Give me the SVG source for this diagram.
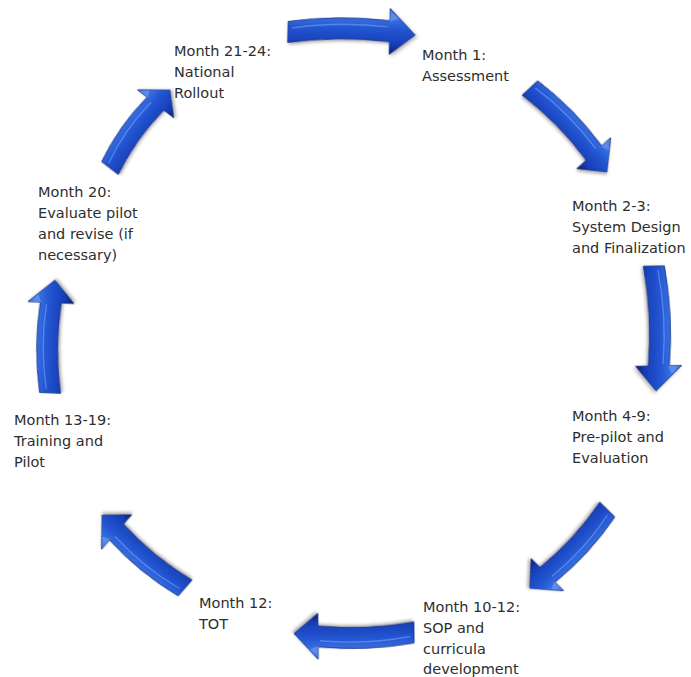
<svg xmlns="http://www.w3.org/2000/svg" width="691" height="677" viewBox="0 0 691 677">
<style>
  text { font-family: "DejaVu Sans", Verdana, sans-serif; font-size: 14.5px; fill: #2e2e2e; }
</style>
<defs>
  <linearGradient id="body" x1="0" y1="0" x2="0" y2="1">
    <stop offset="0" stop-color="#163aa8"/>
    <stop offset="0.18" stop-color="#3f76e6"/>
    <stop offset="0.45" stop-color="#2356d2"/>
    <stop offset="0.8" stop-color="#163db5"/>
    <stop offset="1" stop-color="#081d62"/>
  </linearGradient>
  <filter id="sh" x="-20%" y="-40%" width="140%" height="180%">
    <feDropShadow dx="1.5" dy="2" stdDeviation="1.8" flood-color="#555" flood-opacity="0.45"/>
  </filter>
  <g id="arrow">
    <path d="M -60,-10.5 Q -12,-18.5 36,-13.7 L 36,-26 L 60,0 L 36,20 L 36,7.3 Q -12,2.5 -60,10.5 Z" fill="url(#body)" stroke="#0c2a80" stroke-width="0.8" filter="url(#sh)"/>
    <path d="M -56,-4 Q -12,-12 34,-7.5" fill="none" stroke="#8fb4ff" stroke-opacity="0.45" stroke-width="1.4"/>
    <path d="M 36,-12.5 L 36,-25 L 44,-16 Z" fill="#7aa6f5" fill-opacity="0.5"/>
  </g>
</defs>

<g id="connectors">
  <use href="#arrow" transform="translate(351.5,33.5) rotate(1.4) scale(1.06,1)"/>
  <use href="#arrow" transform="translate(568.5,130) rotate(47.5) scale(0.95,1)"/>
  <use href="#arrow" transform="translate(655,328.5) rotate(89) scale(1.04,1)"/>
  <use href="#arrow" transform="translate(568.5,549) rotate(134.6) scale(0.92,1)"/>
  <use href="#arrow" transform="translate(354,633) rotate(179.5) scale(1.0,1)"/>
  <use href="#arrow" transform="translate(143.5,551.5) rotate(221.3) scale(0.92,1)"/>
  <use href="#arrow" transform="translate(52.5,336.5) rotate(-87.5) scale(0.94,1)"/>
  <use href="#arrow" transform="translate(140,129) rotate(-52.4) scale(0.82,1)"/>
</g>

<g id="n1">
  <text x="422" y="60">Month 1:</text>
  <text x="422" y="81">Assessment</text>
</g>
<g id="n2">
  <text x="572" y="211">Month 2-3:</text>
  <text x="572" y="232">System Design</text>
  <text x="572" y="253">and Finalization</text>
</g>
<g id="n3">
  <text x="572" y="421">Month 4-9:</text>
  <text x="572" y="442">Pre-pilot and</text>
  <text x="572" y="463">Evaluation</text>
</g>
<g id="n4">
  <text x="423" y="612">Month 10-12:</text>
  <text x="423" y="633">SOP and</text>
  <text x="423" y="654">curricula</text>
  <text x="423" y="674">development</text>
</g>
<g id="n5">
  <text x="199" y="608">Month 12:</text>
  <text x="199" y="629">TOT</text>
</g>
<g id="n6">
  <text x="14" y="425">Month 13-19:</text>
  <text x="14" y="446">Training and</text>
  <text x="14" y="467">Pilot</text>
</g>
<g id="n7">
  <text x="38" y="197">Month 20:</text>
  <text x="38" y="218">Evaluate pilot</text>
  <text x="38" y="239">and revise (if</text>
  <text x="38" y="260">necessary)</text>
</g>
<g id="n8">
  <text x="174" y="56">Month 21-24:</text>
  <text x="174" y="77">National</text>
  <text x="174" y="98">Rollout</text>
</g>
</svg>
